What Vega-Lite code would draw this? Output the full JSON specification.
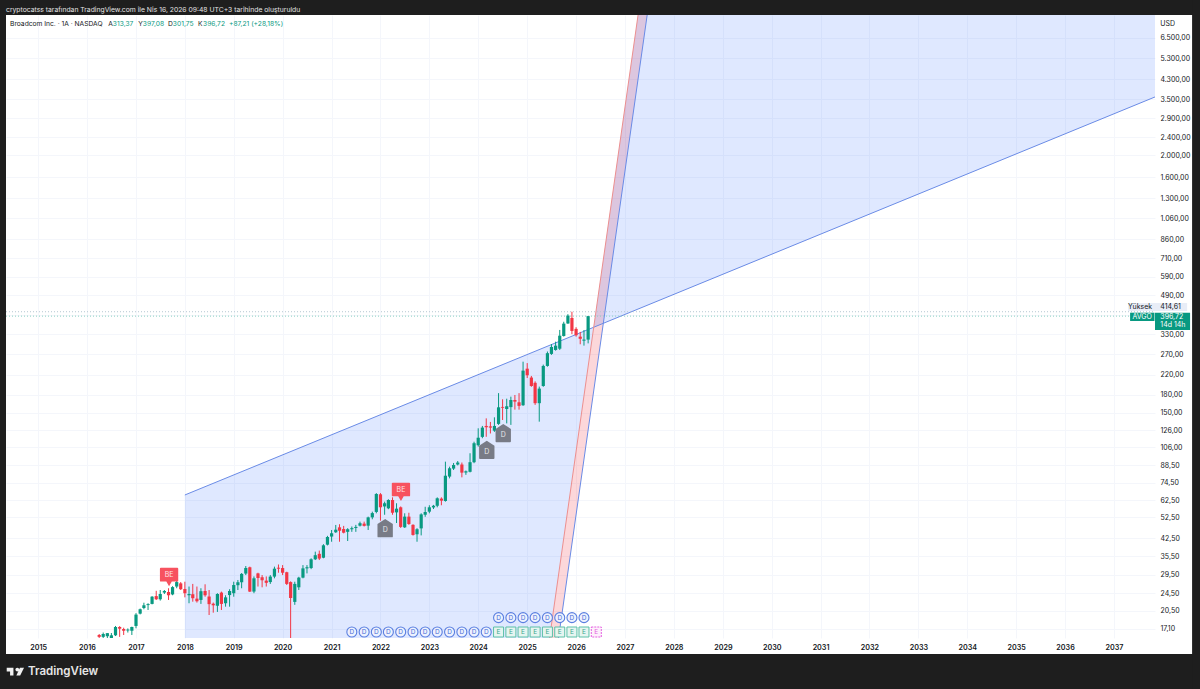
{
  "$schema": "https://vega.github.io/schema/vega-lite/v6.json",
  "width": 1149,
  "height": 623,
  "autosize": {"type": "none"},
  "padding": {"left": 6, "top": 15, "right": 45, "bottom": 51},
  "background": "#ffffff",
  "title": {
    "text": "cryptocatss tarafından TradingView.com ile Nis 16, 2026 09:48 UTC+3 tarihinde oluşturuldu",
    "anchor": "start",
    "frame": "group",
    "font": "Inter",
    "fontSize": 6.8,
    "fontWeight": "normal",
    "color": "#e4e4e4",
    "offset": 0,
    "dy": 13.5,
    "zindex": 1
  },
  "config": {
    "view": {"stroke": null},
    "axis": {"labelFont": "Inter", "labelColor": "#131722", "gridColor": "#f4f6fb", "gridWidth": 1, "ticks": false, "domain": false, "title": null}
  },
  "datasets": {
    "candles": [
      {"date": "2016-04-01", "open": 16.1, "high": 16.26, "low": 15.5, "close": 15.8},
      {"date": "2016-05-01", "open": 15.8, "high": 16.5, "low": 15.6, "close": 16.26},
      {"date": "2016-06-01", "open": 15.9, "high": 16.4, "low": 15.6, "close": 16.4},
      {"date": "2016-07-01", "open": 15.5, "high": 16.42, "low": 15.4, "close": 16.05},
      {"date": "2016-08-01", "open": 16.05, "high": 17.63, "low": 15.93, "close": 17.45},
      {"date": "2016-09-01", "open": 17.45, "high": 17.6, "low": 15.8, "close": 17.15},
      {"date": "2016-10-01", "open": 17.1, "high": 17.32, "low": 16.1, "close": 16.8},
      {"date": "2016-11-01", "open": 16.85, "high": 17.2, "low": 16.5, "close": 17.0},
      {"date": "2016-12-01", "open": 16.8, "high": 17.5, "low": 16.1, "close": 17.45},
      {"date": "2017-01-01", "open": 17.63, "high": 20.05, "low": 17.22, "close": 19.76},
      {"date": "2017-02-01", "open": 19.95, "high": 21.0, "low": 19.8, "close": 20.85},
      {"date": "2017-03-01", "open": 21.12, "high": 22.27, "low": 20.85, "close": 21.7},
      {"date": "2017-04-01", "open": 21.75, "high": 22.15, "low": 20.7, "close": 21.95},
      {"date": "2017-05-01", "open": 22.0, "high": 23.8, "low": 21.9, "close": 23.66},
      {"date": "2017-06-01", "open": 23.8, "high": 25.1, "low": 22.89, "close": 23.05},
      {"date": "2017-07-01", "open": 23.05, "high": 25.3, "low": 22.75, "close": 24.3},
      {"date": "2017-08-01", "open": 24.65, "high": 25.3, "low": 24.3, "close": 25.05},
      {"date": "2017-09-01", "open": 24.8, "high": 25.75, "low": 22.89, "close": 24.0},
      {"date": "2017-10-01", "open": 24.2, "high": 26.3, "low": 24.0, "close": 26.05},
      {"date": "2017-11-01", "open": 26.2, "high": 28.4, "low": 25.75, "close": 27.4},
      {"date": "2017-12-01", "open": 27.05, "high": 27.4, "low": 25.3, "close": 25.5},
      {"date": "2018-01-01", "open": 25.55, "high": 27.5, "low": 23.5, "close": 24.5},
      {"date": "2018-02-01", "open": 24.0, "high": 26.2, "low": 22.15, "close": 24.3},
      {"date": "2018-03-01", "open": 24.25, "high": 26.9, "low": 22.5, "close": 23.3},
      {"date": "2018-04-01", "open": 23.2, "high": 26.2, "low": 22.3, "close": 22.6},
      {"date": "2018-05-01", "open": 22.9, "high": 25.75, "low": 22.0, "close": 25.0},
      {"date": "2018-06-01", "open": 25.05, "high": 26.8, "low": 23.65, "close": 24.0},
      {"date": "2018-07-01", "open": 23.7, "high": 25.3, "low": 19.68, "close": 21.95},
      {"date": "2018-08-01", "open": 22.05, "high": 22.3, "low": 20.15, "close": 21.7},
      {"date": "2018-09-01", "open": 21.6, "high": 24.5, "low": 20.3, "close": 24.3},
      {"date": "2018-10-01", "open": 24.65, "high": 24.9, "low": 20.7, "close": 22.0},
      {"date": "2018-11-01", "open": 22.15, "high": 24.0, "low": 21.4, "close": 23.5},
      {"date": "2018-12-01", "open": 24.05, "high": 25.5, "low": 21.4, "close": 25.05},
      {"date": "2019-01-01", "open": 24.5, "high": 27.5, "low": 23.65, "close": 26.6},
      {"date": "2019-02-01", "open": 26.55, "high": 27.98, "low": 25.3, "close": 27.35},
      {"date": "2019-03-01", "open": 27.35, "high": 30.0, "low": 25.75, "close": 29.75},
      {"date": "2019-04-01", "open": 29.85, "high": 32.2, "low": 29.4, "close": 31.56},
      {"date": "2019-05-01", "open": 31.8, "high": 32.0, "low": 24.8, "close": 24.9},
      {"date": "2019-06-01", "open": 24.9, "high": 29.0, "low": 24.5, "close": 28.45},
      {"date": "2019-07-01", "open": 29.9, "high": 30.1, "low": 26.2, "close": 28.55},
      {"date": "2019-08-01", "open": 28.75, "high": 29.4, "low": 26.0, "close": 27.9},
      {"date": "2019-09-01", "open": 27.8, "high": 29.0, "low": 26.2, "close": 27.2},
      {"date": "2019-10-01", "open": 27.4, "high": 29.4, "low": 26.9, "close": 28.95},
      {"date": "2019-11-01", "open": 28.95, "high": 32.0, "low": 28.45, "close": 31.35},
      {"date": "2019-12-01", "open": 31.65, "high": 32.7, "low": 30.1, "close": 31.35},
      {"date": "2020-01-01", "open": 31.55, "high": 32.5, "low": 29.4, "close": 30.1},
      {"date": "2020-02-01", "open": 30.25, "high": 30.4, "low": 26.6, "close": 26.9},
      {"date": "2020-03-01", "open": 27.4, "high": 27.6, "low": 15.57, "close": 23.35},
      {"date": "2020-04-01", "open": 22.45, "high": 27.5, "low": 21.8, "close": 26.9},
      {"date": "2020-05-01", "open": 26.0, "high": 28.9, "low": 25.3, "close": 28.65},
      {"date": "2020-06-01", "open": 28.65, "high": 32.5, "low": 28.45, "close": 31.45},
      {"date": "2020-07-01", "open": 31.45, "high": 32.5, "low": 29.9, "close": 31.8},
      {"date": "2020-08-01", "open": 31.55, "high": 34.8, "low": 31.2, "close": 34.45},
      {"date": "2020-09-01", "open": 34.45, "high": 37.2, "low": 34.2, "close": 35.9},
      {"date": "2020-10-01", "open": 36.4, "high": 37.6, "low": 34.2, "close": 34.7},
      {"date": "2020-11-01", "open": 35.0, "high": 40.1, "low": 34.8, "close": 39.65},
      {"date": "2020-12-01", "open": 39.9, "high": 43.6, "low": 39.6, "close": 43.1},
      {"date": "2021-01-01", "open": 43.3, "high": 46.25, "low": 41.1, "close": 44.75},
      {"date": "2021-02-01", "open": 45.2, "high": 48.65, "low": 44.9, "close": 46.4},
      {"date": "2021-03-01", "open": 47.5, "high": 49.0, "low": 41.1, "close": 45.9},
      {"date": "2021-04-01", "open": 46.7, "high": 48.2, "low": 44.7, "close": 45.0},
      {"date": "2021-05-01", "open": 45.4, "high": 47.1, "low": 41.4, "close": 46.6},
      {"date": "2021-06-01", "open": 46.6, "high": 47.9, "low": 45.4, "close": 47.1},
      {"date": "2021-07-01", "open": 47.2, "high": 48.7, "low": 45.4, "close": 47.7},
      {"date": "2021-08-01", "open": 48.3, "high": 50.3, "low": 47.9, "close": 49.5},
      {"date": "2021-09-01", "open": 49.3, "high": 50.3, "low": 47.9, "close": 48.2},
      {"date": "2021-10-01", "open": 48.3, "high": 52.9, "low": 46.25, "close": 52.5},
      {"date": "2021-11-01", "open": 52.5, "high": 55.6, "low": 51.5, "close": 54.8},
      {"date": "2021-12-01", "open": 55.45, "high": 67.0, "low": 54.7, "close": 66.4},
      {"date": "2022-01-01", "open": 66.2, "high": 67.0, "low": 50.8, "close": 58.1},
      {"date": "2022-02-01", "open": 58.6, "high": 61.5, "low": 53.9, "close": 60.5},
      {"date": "2022-03-01", "open": 57.5, "high": 63.0, "low": 57.0, "close": 62.53},
      {"date": "2022-04-01", "open": 62.5, "high": 64.2, "low": 53.9, "close": 55.0},
      {"date": "2022-05-01", "open": 55.2, "high": 60.5, "low": 49.6, "close": 57.3},
      {"date": "2022-06-01", "open": 58.1, "high": 58.6, "low": 47.2, "close": 47.7},
      {"date": "2022-07-01", "open": 47.5, "high": 54.7, "low": 47.2, "close": 52.9},
      {"date": "2022-08-01", "open": 52.9, "high": 55.0, "low": 48.7, "close": 49.1},
      {"date": "2022-09-01", "open": 48.7, "high": 49.0, "low": 43.7, "close": 44.0},
      {"date": "2022-10-01", "open": 44.3, "high": 47.1, "low": 41.1, "close": 46.6},
      {"date": "2022-11-01", "open": 47.0, "high": 54.7, "low": 43.8, "close": 54.1},
      {"date": "2022-12-01", "open": 53.9, "high": 58.4, "low": 52.8, "close": 55.4},
      {"date": "2023-01-01", "open": 55.6, "high": 59.3, "low": 54.7, "close": 58.1},
      {"date": "2023-02-01", "open": 58.0, "high": 59.5, "low": 57.1, "close": 59.0},
      {"date": "2023-03-01", "open": 59.0, "high": 64.2, "low": 58.1, "close": 63.6},
      {"date": "2023-04-01", "open": 63.4, "high": 64.2, "low": 59.3, "close": 62.1},
      {"date": "2023-05-01", "open": 61.9, "high": 91.9, "low": 61.5, "close": 79.8},
      {"date": "2023-06-01", "open": 79.1, "high": 87.4, "low": 77.7, "close": 86.0},
      {"date": "2023-07-01", "open": 85.7, "high": 90.7, "low": 84.5, "close": 88.9},
      {"date": "2023-08-01", "open": 89.3, "high": 92.5, "low": 88.5, "close": 91.1},
      {"date": "2023-09-01", "open": 89.3, "high": 91.1, "low": 78.5, "close": 82.3},
      {"date": "2023-10-01", "open": 82.4, "high": 84.1, "low": 80.5, "close": 83.4},
      {"date": "2023-11-01", "open": 83.0, "high": 100.0, "low": 82.5, "close": 91.4},
      {"date": "2023-12-01", "open": 91.4, "high": 112.3, "low": 90.5, "close": 110.6},
      {"date": "2024-01-01", "open": 108.4, "high": 128.5, "low": 106.9, "close": 116.9},
      {"date": "2024-02-01", "open": 117.9, "high": 131.6, "low": 116.3, "close": 129.4},
      {"date": "2024-03-01", "open": 131.6, "high": 142.0, "low": 118.0, "close": 129.9},
      {"date": "2024-04-01", "open": 131.0, "high": 137.0, "low": 122.0, "close": 129.4},
      {"date": "2024-05-01", "open": 125.5, "high": 143.5, "low": 124.0, "close": 131.6},
      {"date": "2024-06-01", "open": 134.3, "high": 183.0, "low": 133.0, "close": 158.7},
      {"date": "2024-07-01", "open": 159.3, "high": 172.0, "low": 139.7, "close": 158.0},
      {"date": "2024-08-01", "open": 156.0, "high": 173.0, "low": 135.0, "close": 160.4},
      {"date": "2024-09-01", "open": 159.0, "high": 176.6, "low": 133.0, "close": 170.8},
      {"date": "2024-10-01", "open": 170.8, "high": 179.6, "low": 155.0, "close": 168.0},
      {"date": "2024-11-01", "open": 166.9, "high": 183.0, "low": 155.0, "close": 161.0},
      {"date": "2024-12-01", "open": 162.0, "high": 251.0, "low": 161.0, "close": 229.4},
      {"date": "2025-01-01", "open": 234.0, "high": 247.5, "low": 213.0, "close": 219.0},
      {"date": "2025-02-01", "open": 214.0, "high": 217.5, "low": 195.0, "close": 196.6},
      {"date": "2025-03-01", "open": 203.0, "high": 206.0, "low": 162.6, "close": 165.4},
      {"date": "2025-04-01", "open": 165.4, "high": 195.4, "low": 137.4, "close": 191.5},
      {"date": "2025-05-01", "open": 196.6, "high": 243.7, "low": 195.0, "close": 240.5},
      {"date": "2025-06-01", "open": 240.5, "high": 278.0, "low": 238.7, "close": 273.4},
      {"date": "2025-07-01", "open": 271.4, "high": 299.6, "low": 268.7, "close": 291.0},
      {"date": "2025-08-01", "open": 282.4, "high": 306.9, "low": 280.4, "close": 294.8},
      {"date": "2025-09-01", "open": 286.0, "high": 345.3, "low": 282.4, "close": 326.0},
      {"date": "2025-10-01", "open": 325.0, "high": 375.0, "low": 323.0, "close": 367.9},
      {"date": "2025-11-01", "open": 368.5, "high": 404.5, "low": 367.0, "close": 398.8},
      {"date": "2025-12-01", "open": 389.6, "high": 414.61, "low": 331.0, "close": 341.9},
      {"date": "2026-01-01", "open": 349.0, "high": 354.9, "low": 322.8, "close": 327.4},
      {"date": "2026-02-01", "open": 322.8, "high": 338.6, "low": 299.0, "close": 316.0},
      {"date": "2026-03-01", "open": 310.0, "high": 345.0, "low": 295.0, "close": 313.37},
      {"date": "2026-04-01", "open": 313.37, "high": 397.08, "low": 301.75, "close": 396.72}
    ],
    "dividendsLow": [
      {"date": "2021-06-01", "price": 16.59}, {"date": "2021-09-01", "price": 16.59}, {"date": "2021-12-01", "price": 16.59},
      {"date": "2022-03-01", "price": 16.59}, {"date": "2022-06-01", "price": 16.59}, {"date": "2022-09-01", "price": 16.59}, {"date": "2022-12-01", "price": 16.59},
      {"date": "2023-03-01", "price": 16.59}, {"date": "2023-06-01", "price": 16.59}, {"date": "2023-09-01", "price": 16.59}, {"date": "2023-12-01", "price": 16.59},
      {"date": "2024-03-01", "price": 16.59},
      {"date": "2024-06-01", "price": 19.16}, {"date": "2024-09-01", "price": 19.16}, {"date": "2024-12-01", "price": 19.16},
      {"date": "2025-03-01", "price": 19.16}, {"date": "2025-06-01", "price": 19.16}, {"date": "2025-09-01", "price": 19.16}, {"date": "2025-12-01", "price": 19.16},
      {"date": "2026-03-01", "price": 19.16}
    ],
    "earnings": [
      {"date": "2024-06-01", "price": 16.59}, {"date": "2024-09-01", "price": 16.59}, {"date": "2024-12-01", "price": 16.59},
      {"date": "2025-03-01", "price": 16.59}, {"date": "2025-06-01", "price": 16.59}, {"date": "2025-09-01", "price": 16.59}, {"date": "2025-12-01", "price": 16.59},
      {"date": "2026-03-01", "price": 16.59}
    ],
    "drawnLines": [
      {"line": "shallow", "date": "2018-01-01", "price": 65.75},
      {"line": "shallow", "date": "2037-11-03", "price": 3590},
      {"line": "steep", "date": "2025-08-23", "price": 15.62},
      {"line": "steep", "date": "2027-06-16", "price": 8181}
    ],
    "panels": [
      {"date": "2014-03-22", "date2": "2038-10-06", "price": 9512, "price2": 8181},
      {"date": "2014-03-22", "date2": "2038-10-06", "price": 13.3, "price2": 9.36},
      {"date": "2014-03-22", "date2": "2014-05-06", "price": 9512, "price2": 9.36},
      {"date": "2038-08-07", "date2": "2038-10-06", "price": 9512, "price2": 9.36}
    ]
  },
  "encoding": {
    "x": {
      "field": "date",
      "type": "temporal",
      "title": null,
      "scale": {"domain": ["2014-05-06", "2037-11-03"], "nice": false, "padding": 0},
      "axis": {
        "values": [{"year": 2015}, {"year": 2016}, {"year": 2017}, {"year": 2018}, {"year": 2019}, {"year": 2020}, {"year": 2021}, {"year": 2022}, {"year": 2023}, {"year": 2024}, {"year": 2025}, {"year": 2026}, {"year": 2027}, {"year": 2028}, {"year": 2029}, {"year": 2030}, {"year": 2031}, {"year": 2032}, {"year": 2033}, {"year": 2034}, {"year": 2035}, {"year": 2036}, {"year": 2037}],
        "format": "%Y",
        "labelFontSize": 7.2,
        "labelFontWeight": 600,
        "labelPadding": 5,
        "labelOverlap": false,
        "grid": true
      }
    },
    "y": {
      "field": "price",
      "type": "quantitative",
      "title": null,
      "scale": {"type": "log", "domain": [15.62, 8181], "nice": false, "padding": 0},
      "axis": {
        "orient": "right",
        "values": [6500, 5300, 4300, 3500, 2900, 2400, 2000, 1600, 1300, 1060, 860, 710, 590, 490, 400, 330, 270, 220, 180, 150, 126, 106, 88.5, 74.5, 62.5, 52.5, 42.5, 35.5, 29.5, 24.5, 20.5, 17.1],
        "labelExpr": "datum.value == 400 ? '' : replace(replace(replace(format(datum.value, ',.2f'), ',', '#'), '.', ','), '#', '.')",
        "labelFontSize": 7,
        "labelAlign": "left",
        "labelPadding": 5,
        "labelOverlap": false,
        "labelBound": false,
        "grid": true
      }
    }
  },
  "layer": [
    {
      "data": {"values": [
        {"date": "2025-06-17", "price": 15.62, "price2": 15.62},
        {"date": "2025-08-23", "price": 29.45, "price2": 15.62},
        {"date": "2027-04-09", "price": 8181, "price2": 4327},
        {"date": "2027-06-16", "price": 8181, "price2": 8181}
      ]},
      "mark": {"type": "area", "color": "#f23645", "opacity": 0.2, "clip": true},
      "encoding": {"y2": {"field": "price2"}}
    },
    {
      "data": {"values": [
        {"date": "2018-01-01", "price": 65.75, "price2": 15.62},
        {"date": "2025-06-17", "price": 295.8, "price2": 15.62},
        {"date": "2026-05-12", "price": 354.5, "price2": 354.5}
      ]},
      "mark": {"type": "area", "color": "#2962ff", "opacity": 0.15, "clip": true},
      "encoding": {"y2": {"field": "price2"}}
    },
    {
      "data": {"values": [
        {"date": "2026-05-12", "price": 354.5, "price2": 354.5},
        {"date": "2027-04-09", "price": 8181, "price2": 426},
        {"date": "2037-11-03", "price": 8181, "price2": 3590}
      ]},
      "mark": {"type": "area", "color": "#2962ff", "opacity": 0.15, "clip": true},
      "encoding": {"y2": {"field": "price2"}}
    },
    {
      "data": {"name": "drawnLines"},
      "mark": {"type": "line", "color": "#6a8be6", "strokeWidth": 1, "clip": true},
      "encoding": {"detail": {"field": "line"}}
    },
    {
      "data": {"values": [
        {"date": "2025-06-17", "price": 15.62},
        {"date": "2027-04-09", "price": 8181}
      ]},
      "mark": {"type": "line", "color": "#ec8f8f", "strokeWidth": 1, "clip": true}
    },
    {
      "data": {"values": [{"date": "2014-05-06", "date2": "2037-11-03", "price": 414.61}]},
      "mark": {"type": "rule", "color": "#b5c6d2", "strokeWidth": 1, "strokeDash": [1, 2]},
      "encoding": {"x2": {"field": "date2"}}
    },
    {
      "data": {"values": [{"date": "2014-05-06", "date2": "2037-11-03", "price": 396.72}]},
      "mark": {"type": "rule", "color": "#8ad0c2", "strokeWidth": 1, "strokeDash": [1, 2]},
      "encoding": {"x2": {"field": "date2"}}
    },
    {
      "data": {"name": "candles"},
      "mark": {"type": "rule", "strokeWidth": 1, "clip": true},
      "encoding": {
        "y": {"field": "low", "type": "quantitative", "title": null},
        "y2": {"field": "high"},
        "color": {"condition": {"test": "datum.close >= datum.open", "value": "#089981"}, "value": "#f23645"}
      }
    },
    {
      "data": {"name": "candles"},
      "mark": {"type": "bar", "size": 3.2, "clip": true},
      "encoding": {
        "y": {"field": "open", "type": "quantitative", "title": null},
        "y2": {"field": "close"},
        "color": {"condition": {"test": "datum.close >= datum.open", "value": "#089981"}, "value": "#f23645"}
      }
    },
    {
      "data": {"name": "dividendsLow"},
      "mark": {"type": "point", "shape": "circle", "size": 100, "filled": true, "fill": "#eef2fe", "stroke": "#5a7fe0", "strokeWidth": 1.1, "opacity": 1}
    },
    {
      "data": {"name": "dividendsLow"},
      "mark": {"type": "text", "font": "Inter", "fontSize": 6.5, "color": "#4a6fd8", "baseline": "middle"},
      "encoding": {"text": {"value": "D"}}
    },
    {
      "data": {"name": "earnings"},
      "mark": {"type": "point", "shape": "square", "size": 100, "filled": true, "fill": "#e6f5f0", "stroke": "#5cc0a8", "strokeWidth": 1, "opacity": 1}
    },
    {
      "data": {"name": "earnings"},
      "mark": {"type": "text", "font": "Inter", "fontSize": 6.5, "color": "#3aa88f", "baseline": "middle"},
      "encoding": {"text": {"value": "E"}}
    },
    {
      "data": {"values": [{"date": "2026-06-01", "price": 16.59}]},
      "mark": {"type": "point", "shape": "square", "size": 100, "filled": true, "fill": "#fdf0fb", "stroke": "#e45fe0", "strokeWidth": 1, "strokeDash": [2, 1], "opacity": 1}
    },
    {
      "data": {"values": [{"date": "2026-06-01", "price": 16.59}]},
      "mark": {"type": "text", "font": "Inter", "fontSize": 6.5, "color": "#e45fe0", "baseline": "middle"},
      "encoding": {"text": {"value": "E"}}
    },
    {
      "data": {"values": [
        {"date": "2017-09-05", "price": 28.84},
        {"date": "2022-06-03", "price": 67.9}
      ]},
      "mark": {"type": "point", "filled": true, "color": "#f7525f", "opacity": 1, "size": 335, "shape": "M -0.9 -1 H 0.9 Q 1 -1 1 -0.9 V 0.4 Q 1 0.5 0.9 0.5 H 0.3 L 0 1 L -0.3 0.5 H -0.9 Q -1 0.5 -1 0.4 V -0.9 Q -1 -1 -0.9 -1 Z"}
    },
    {
      "data": {"values": [
        {"date": "2017-09-05", "price": 28.84},
        {"date": "2022-06-03", "price": 67.9}
      ]},
      "mark": {"type": "text", "font": "Inter", "fontSize": 7, "color": "#ffe3e5", "baseline": "middle", "dy": -2},
      "encoding": {"text": {"value": "BE"}}
    },
    {
      "data": {"values": [
        {"date": "2022-02-05", "price": 47.1},
        {"date": "2024-03-05", "price": 103.5},
        {"date": "2024-07-06", "price": 122.5}
      ]},
      "mark": {"type": "point", "filled": true, "color": "#787b86", "opacity": 1, "size": 335, "shape": "M 0 -1 L 0.84 -0.45 V 0.9 Q 0.84 1 0.74 1 H -0.74 Q -0.84 1 -0.84 0.9 V -0.45 Z"}
    },
    {
      "data": {"values": [
        {"date": "2022-02-05", "price": 47.1},
        {"date": "2024-03-05", "price": 103.5},
        {"date": "2024-07-06", "price": 122.5}
      ]},
      "mark": {"type": "text", "font": "Inter", "fontSize": 7, "color": "#e8e9ec", "baseline": "middle", "dy": 2},
      "encoding": {"text": {"value": "D"}}
    },
    {
      "data": {"values": [{"name": "Broadcom Inc. · 1A · NASDAQ", "date": "2014-06-05", "price": 7471}, {"name": "A", "date": "2016-06-07", "price": 7471}, {"name": "Y", "date": "2017-01-17", "price": 7471}, {"name": "D", "date": "2017-08-28", "price": 7471}, {"name": "K", "date": "2018-04-10", "price": 7471}]},
      "mark": {"type": "text", "font": "Inter", "fontSize": 6.7, "color": "#131722", "align": "left", "baseline": "middle"},
      "encoding": {"text": {"field": "name"}}
    },
    {
      "data": {"values": [{"name": "313,37", "date": "2016-07-12", "price": 7471}, {"name": "397,08", "date": "2017-02-21", "price": 7471}, {"name": "301,75", "date": "2017-10-03", "price": 7471}, {"name": "396,72", "date": "2018-05-17", "price": 7471}, {"name": "+87,21 (+28,18%)", "date": "2018-11-27", "price": 7471}]},
      "mark": {"type": "text", "font": "Inter", "fontSize": 6.7, "color": "#089981", "align": "left", "baseline": "middle"},
      "encoding": {"text": {"field": "name"}}
    },
    {
      "data": {"values": [{"name": "USD", "date": "2037-12-13", "price": 7471}]},
      "mark": {"type": "text", "font": "Inter", "fontSize": 7, "color": "#131722", "align": "left", "baseline": "middle"},
      "encoding": {"text": {"field": "name"}}
    },
    {
      "data": {"values": [{"date": "2037-04-16", "date2": "2038-07-01", "price": 452.8, "price2": 418}]},
      "mark": {"type": "rect", "color": "#e8edf7"},
      "encoding": {"x2": {"field": "date2"}, "y2": {"field": "price2"}}
    },
    {
      "data": {"values": [{"date": "2037-05-01", "date2": "2037-10-30", "price": 410.7, "price2": 377.8}, {"date": "2037-11-03", "date2": "2038-07-23", "price": 410.7, "price2": 345.3}]},
      "mark": {"type": "rect", "color": "#089981"},
      "encoding": {"x2": {"field": "date2"}, "y2": {"field": "price2"}}
    },
    {
      "data": {"values": [{"name": "Yüksek", "date": "2037-07-15", "price": 435}]},
      "mark": {"type": "text", "font": "Inter", "fontSize": 7, "color": "#131722", "baseline": "middle"},
      "encoding": {"text": {"field": "name"}}
    },
    {
      "data": {"values": [{"name": "414,61", "date": "2037-12-13", "price": 435}]},
      "mark": {"type": "text", "font": "Inter", "fontSize": 7, "color": "#131722", "align": "left", "baseline": "middle"},
      "encoding": {"text": {"field": "name"}}
    },
    {
      "data": {"values": [{"name": "AVGO", "date": "2037-07-30", "price": 393.5}]},
      "mark": {"type": "text", "font": "Inter", "fontSize": 7, "color": "#ffffff", "baseline": "middle"},
      "encoding": {"text": {"field": "name"}}
    },
    {
      "data": {"values": [{"name": "396,72", "date": "2037-12-13", "price": 393.5}, {"name": "14d 14h", "date": "2037-12-13", "price": 363}]},
      "mark": {"type": "text", "font": "Inter", "fontSize": 7, "color": "#ffffff", "align": "left", "baseline": "middle"},
      "encoding": {"text": {"field": "name"}}
    },
    {
      "data": {"name": "panels"},
      "mark": {"type": "rect", "color": "#1e1e1e"},
      "encoding": {"x2": {"field": "date2"}, "y2": {"field": "price2"}}
    },
    {
      "data": {"values": [{"date": "2014-07-15", "price": 11.15}]},
      "mark": {"type": "point", "filled": true, "color": "#f0f0f0", "opacity": 1, "size": 300, "shape": "M -0.222 -0.444 H -1 V 0 H -0.611 V 0.444 H -0.222 Z M 0.556 0.444 H 0.111 L 0.528 -0.444 H 1 Z M 0.222 -0.444 A 0.222 0.222 0 1 1 0.222 0 A 0.222 0.222 0 1 1 0.222 -0.444 Z"}
    },
    {
      "data": {"values": [{"name": "TradingView", "date": "2014-10-18", "price": 11.1}]},
      "mark": {"type": "text", "font": "Inter", "fontSize": 11.5, "fontWeight": 600, "color": "#e6e6e6", "align": "left", "baseline": "middle"},
      "encoding": {"text": {"field": "name"}}
    }
  ]
}
